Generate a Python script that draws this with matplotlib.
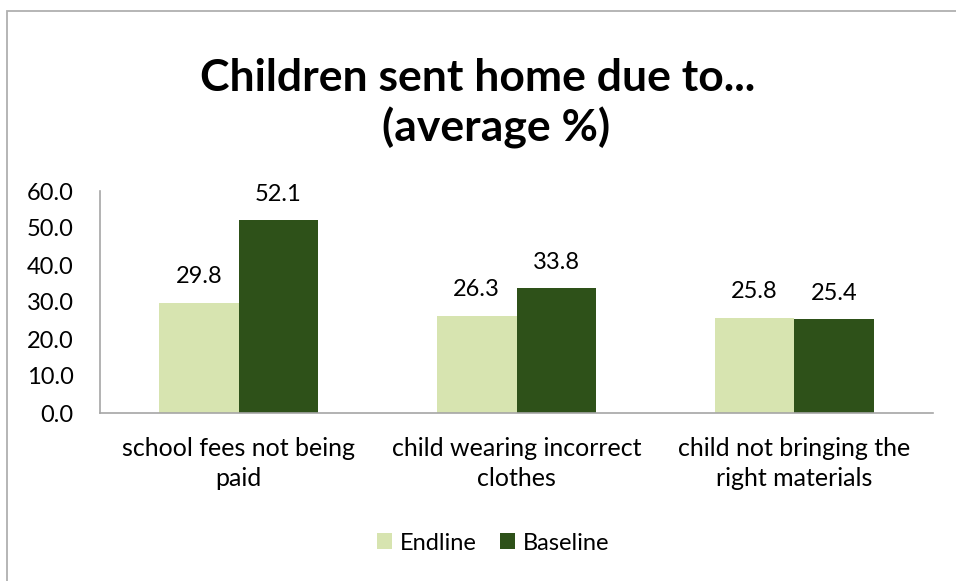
import matplotlib
matplotlib.use("Agg")
import matplotlib.pyplot as plt
from matplotlib.patches import Rectangle
import numpy as np

categories = ["school fees not being\npaid",
              "child wearing incorrect\nclothes",
              "child not bringing the\nright materials"]
endline = [29.8, 26.3, 25.8]
baseline = [52.1, 33.8, 25.4]
series_names = ["Endline", "Baseline"]
yticks = [0, 10, 20, 30, 40, 50, 60]

light_green = "#D7E4B0"
dark_green = "#2E5119"
axis_grey = "#A6A6A6"

plt.rcParams["font.family"] = ["Lato", "DejaVu Sans"]

fig = plt.figure(figsize=(9.56, 5.81), dpi=100)
W, H = 956, 581

# chart frame
fig.patches.append(Rectangle((7 / W, -0.1), 1.2, (H - 11) / H + 0.1,
                             transform=fig.transFigure, fill=False,
                             edgecolor="#B0B0B0", linewidth=1.3))

ax = fig.add_axes([100 / W, (H - 413) / H, (933 - 100) / W, (413 - 191) / H])

x = np.arange(len(categories))
bw = 0.286
b1 = ax.bar(x - bw / 2, endline, bw, color=light_green, label=series_names[0])
b2 = ax.bar(x + bw / 2, baseline, bw, color=dark_green, label=series_names[1])

for bars, vals in ((b1, endline), (b2, baseline)):
    for rect, v in zip(bars, vals):
        ax.annotate(f"{v:.1f}", (rect.get_x() + rect.get_width() / 2, v),
                    xytext=(0, 11), textcoords="offset points",
                    ha="center", va="bottom", fontsize=17, color="#000000")

ax.set_xlim(-0.5, 2.5)
ax.set_ylim(0, 60)
ax.set_yticks(yticks)
ax.set_yticklabels([f"{t:.1f}" for t in yticks], fontsize=17)
ax.set_xticks(x)
ax.set_xticklabels(categories, fontsize=18, linespacing=1.4)
ax.tick_params(axis="y", length=0, pad=19)
ax.tick_params(axis="x", length=0, pad=17)

for s in ("top", "right"):
    ax.spines[s].set_visible(False)
for s in ("left", "bottom"):
    ax.spines[s].set_color(axis_grey)
    ax.spines[s].set_linewidth(1.2)

fig.text(478 / W, (H - 78) / H, "Children sent home due to...",
         ha="center", va="center", fontsize=32, fontweight="bold")
fig.text(496 / W, (H - 128) / H, "(average %)",
         ha="center", va="center", fontsize=32, fontweight="bold")

fig.legend(handles=[b1, b2], labels=series_names, loc="center",
           bbox_to_anchor=(493 / W, (H - 543) / H), ncol=2, frameon=False,
           fontsize=17, handlelength=0.65, handleheight=0.65,
           handletextpad=0.3, columnspacing=1.0)

fig.savefig("out.png", dpi=100)
